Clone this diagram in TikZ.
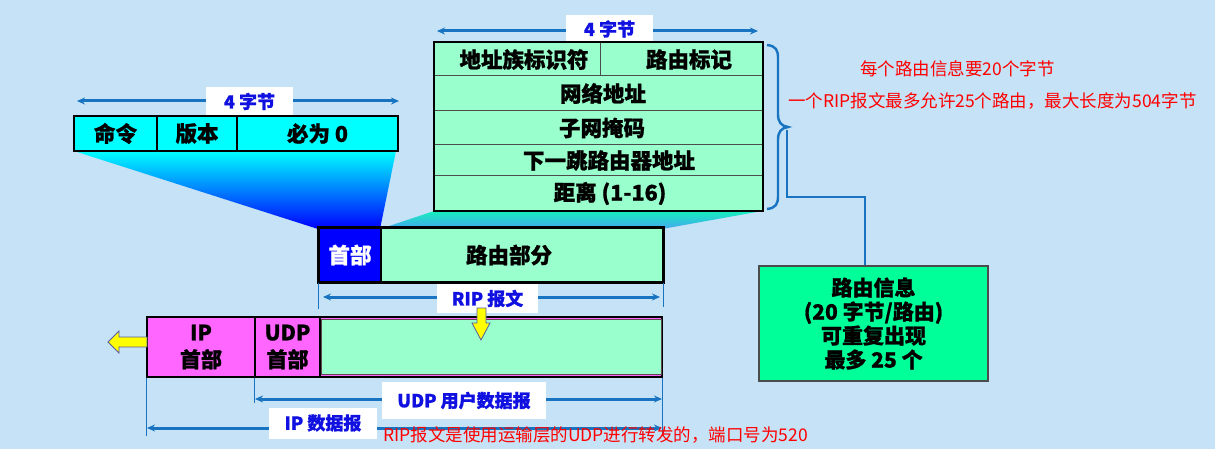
\documentclass[tikz,border=0pt]{standalone}
\usepackage{fontspec}
\setmainfont{Noto Sans CJK SC}[BoldFeatures={FakeBold=1}]
\usetikzlibrary{arrows.meta}
\definecolor{bg}{RGB}{197,226,246}
\definecolor{mint}{RGB}{153,255,204}
\definecolor{cyanc}{RGB}{0,255,255}
\definecolor{bluec}{RGB}{0,0,255}
\definecolor{pinkc}{RGB}{255,102,255}
\definecolor{routeg}{RGB}{0,255,153}
\definecolor{arrowblue}{RGB}{24,116,192}
\definecolor{lblblue}{RGB}{16,16,224}
\definecolor{trapgreen}{RGB}{20,240,190}
\definecolor{trapblue}{RGB}{70,165,240}
\definecolor{yelline}{RGB}{90,90,160}
\definecolor{yellc}{RGB}{255,255,0}
\definecolor{redc}{RGB}{255,0,0}
\begin{document}
\begin{tikzpicture}[x=1pt,y=-1pt,
  cell/.style={draw=black,line width=1.5pt,inner sep=0pt,font=\fontsize{21.5}{24}\selectfont\bfseries},
  cyancell/.style={cell,fill=cyanc},
  mintcell/.style={cell,fill=mint,draw=black!70,line width=1pt},
  lbl/.style={fill=white,inner sep=0pt,text=lblblue,font=\fontsize{18}{20}\selectfont\bfseries},
  dimarrow/.style={draw=arrowblue,line width=3pt,{Stealth[length=8pt,width=7pt]}-{Stealth[length=8pt,width=7pt]}},
  tick/.style={draw=arrowblue,line width=1.2pt},
  redtxt/.style={text=redc,inner sep=0pt,anchor=west,font=\fontsize{17.5}{20}\selectfont},
  yarrow/.style={fill=yellc,draw=yelline,line width=0.8pt}]
\useasboundingbox (0,0) rectangle (1215,449);
\fill[bg] (0,0) rectangle (1215,449);

% gradient wedges
\shade[top color=cyanc,bottom color=bluec] (74,151) -- (396,151) -- (380,229) -- (318,229) -- cycle;
\shade[top color=trapgreen,bottom color=trapblue] (434,211) -- (762,211) -- (662,229) -- (380,229) -- cycle;

% top-left header box
\coordinate (tlA) at (77,101);
\coordinate (tlB) at (399,101);
\draw[dimarrow] (tlA) -- (tlB);
\node[lbl,minimum width=87pt,minimum height=29pt] (tllbl) at (249.5,101.5) {4 字节};
\node[cyancell,minimum width=83pt,minimum height=35pt] (cmd) at (115.5,133.5) {命令};
\node[cyancell,minimum width=80pt,minimum height=35pt] (ver) at (197,133.5) {版本};
\node[cyancell,minimum width=161pt,minimum height=35pt] (zero) at (317.5,133.5) {必为 0};

% top-right route entry box
\coordinate (trA) at (437,31);
\coordinate (trB) at (758,31);
\draw[dimarrow] (trA) -- (trB);
\node[lbl,minimum width=87pt,minimum height=28pt] (trlbl) at (609.5,29) {4 字节};
\node[mintcell,minimum width=166pt,minimum height=33pt] (fam) at (517,59.5) {\hspace*{14pt}地址族标识符};
\node[mintcell,minimum width=162pt,minimum height=33pt] (tag) at (681,59.5) {\hspace*{16pt}路由标记};
\node[mintcell,minimum width=328pt,minimum height=35pt] (net) at (598,93.5) {\hspace*{10pt}网络地址};
\node[mintcell,minimum width=328pt,minimum height=34pt] (mask) at (598,128) {\hspace*{8pt}子网掩码};
\node[mintcell,minimum width=328pt,minimum height=31pt] (hop) at (598,160.5) {\hspace*{22pt}下一跳路由器地址};
\node[mintcell,minimum width=328pt,minimum height=35pt] (dist) at (598,193.5) {\hspace*{24pt}距离 (1-16)};
\draw[line width=2pt] (fam.north west) rectangle (dist.south east);

% brace
\coordinate (bt) at (788,127);
\draw[arrowblue,line width=2.4pt] (767,45) .. controls (776,46) and (778,50) .. (778,58) -- (778,114)
  .. controls (778,122) and (781,126) .. (bt) .. controls (781,128) and (778,132) .. (778,140) -- (778,196)
  .. controls (778,204) and (776,208) .. (767,209);

% RIP message
\node[cell,fill=bluec,text=white,minimum width=62pt,minimum height=54pt] (hdr) at (350,255) {首部};
\node[cell,fill=mint,minimum width=282pt,minimum height=54pt] (rpart) at (522,255) {\hspace*{-26pt}路由部分};
\draw[line width=3pt] (hdr.north west) rectangle (rpart.south east);
\coordinate (ripA) at (323,297);
\coordinate (ripB) at (660,297);
\draw[tick] (hdr.south west) -- ++(0,26);
\draw[tick] (rpart.south east) -- ++(0,24);
\draw[dimarrow] (ripA) -- (ripB);
\node[lbl,minimum width=101pt,minimum height=29pt] (riplbl) at (487.5,298.5) {RIP 报文};

% UDP / IP datagram
\node[cell,fill=pinkc,line width=1.2pt,minimum width=108pt,minimum height=60pt,align=center,font=\fontsize{21}{27}\selectfont\bfseries] (iph) at (201,347) {IP\\首部};
\node[cell,fill=pinkc,line width=1.2pt,minimum width=65pt,minimum height=60pt,align=center,font=\fontsize{21}{27}\selectfont\bfseries] (udph) at (287.5,347) {UDP\\首部};
\node[cell,fill=pinkc,line width=1.2pt,minimum width=342pt,minimum height=60pt] (data) at (491,347) {};
\node[draw=black!70!magenta,fill=mint,line width=0.8pt,inner sep=0pt,minimum width=340pt,minimum height=55pt] (datain) at (491,347) {};

% yellow arrows
\draw[yarrow] (477,308) -- (486,308) -- (486,323) -- (490,323) -- (481,340) -- (472,323) -- (477,323) -- cycle;
\coordinate (yl) at (108,342);
\draw[yarrow] (147,337) -- (119,337) -- (119,331) -- (yl) -- (119,353) -- (119,347) -- (147,347) -- cycle;

% dimension lines
\draw[tick] (iph.south west) -- ++(0,58);
\draw[tick] (udph.south west) -- ++(0,25);
\draw[tick] (data.south east) -- ++(0,58);
\coordinate (udpA) at (255,399);
\coordinate (udpB) at (662,399);
\draw[dimarrow] (udpA) -- (udpB);
\node[lbl,minimum width=164pt,minimum height=37pt] (udplbl) at (464,400.5) {UDP 用户数据报};
\coordinate (ipA) at (147,428);
\coordinate (ipB) at (662,428);
\draw[dimarrow] (ipA) -- (ipB);
\node[lbl,minimum width=108pt,minimum height=31pt] (iplbl) at (323,423) {IP 数据报};

% route info box
\node[draw=black!70,line width=1.2pt,fill=routeg,minimum width=229pt,minimum height=115pt,align=center,font=\fontsize{21}{24}\selectfont\bfseries] (route) at (873.5,323.5) {路由信息\\(20 字节/路由)\\可重复出现\\最多 25 个};
\coordinate (bend) at (865,197);
\draw[arrowblue,line width=2pt] (787,130) |- (bend) -- (bend |- route.north);

% red notes
\node[redtxt] (note1) at (860,69) {每个路由信息要20个字节};
\node[redtxt] (note2) at (788,101) {一个RIP报文最多允许25个路由，最大长度为504字节};
\node[redtxt] (note3) at (383,435) {RIP报文是使用运输层的UDP进行转发的，端口号为520};
\end{tikzpicture}
\end{document}
